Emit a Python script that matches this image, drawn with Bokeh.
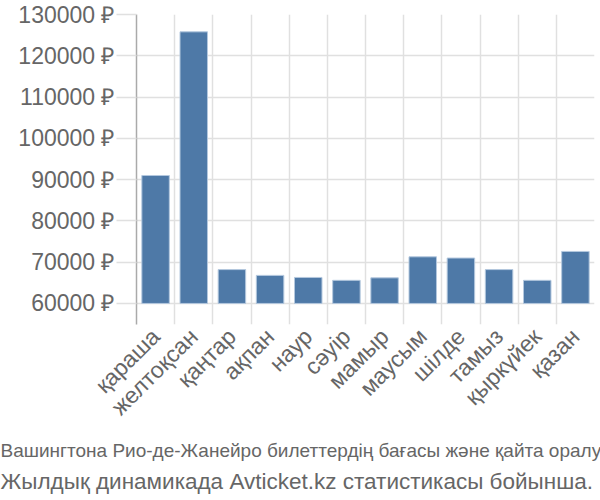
from math import pi
from bokeh.plotting import figure
from bokeh.models import Range1d, FixedTicker, Title
from bokeh.embed import file_html
from bokeh.resources import INLINE

months = ["қараша", "желтоқсан", "қаңтар", "ақпан", "наур", "сәуір",
          "мамыр", "маусым", "шілде", "тамыз", "қыркүйек", "қазан"]
prices = [91000, 125800, 68200, 66800, 66300, 65600, 66200, 71300, 71000, 68200, 65600, 72600]
y_ticks = [60000, 70000, 80000, 90000, 100000, 110000, 120000, 130000]
title_line1 = "Вашингтона Рио-де-Жанейро билеттердің бағасы және қайта оралу"
title_line2 = "Жылдық динамикада Avticket.kz статистикасы бойынша."

xs = list(range(len(months)))
GRAY = "#666666"
GRID = "#e0e0e0"

p = figure(width=600, height=500, output_backend="svg", toolbar_location=None,
           x_range=Range1d(-0.5, len(months) - 0.5), y_range=Range1d(54900, 130000),
           min_border_left=136, min_border_right=6, min_border_top=14, min_border_bottom=176)
p.outline_line_color = None

p.vbar(x=xs, top=prices, bottom=y_ticks[0], width=0.72,
       fill_color="#4e79a7", line_color="#b4c8de", line_width=1)

# x axis
xa = p.xaxis[0]
xa.ticker = FixedTicker(ticks=xs)
xa.major_label_overrides = {i: m for i, m in enumerate(months)}
xa.major_label_orientation = pi / 4
xa.axis_line_color = None
xa.major_tick_line_color = None
xa.minor_tick_line_color = None
xa.major_label_text_font = "Liberation Sans"
xa.major_label_text_font_size = "23px"
xa.major_label_text_color = GRAY
xa.major_label_standoff = 2

# y axis
ya = p.yaxis[0]
ya.ticker = FixedTicker(ticks=y_ticks)
ya.major_label_overrides = {v: f"{v} ₽" for v in y_ticks}
ya.axis_line_color = "#aaaaaa"
ya.axis_line_width = 1.5
ya.major_tick_line_color = GRID
ya.major_tick_line_width = 1.5
ya.major_tick_out = 20
ya.major_tick_in = 0
ya.minor_tick_line_color = None
ya.major_label_text_font = "Liberation Sans"
ya.major_label_text_font_size = "23px"
ya.major_label_text_color = GRAY
ya.major_label_standoff = 2

# grids
p.xgrid[0].ticker = FixedTicker(ticks=[i - 0.5 for i in range(len(months) + 1)])
p.xgrid[0].grid_line_color = GRID
p.xgrid[0].grid_line_width = 1.5
p.ygrid[0].ticker = FixedTicker(ticks=y_ticks)
p.ygrid[0].grid_line_color = GRID
p.ygrid[0].grid_line_width = 1.5

t1 = Title(text=title_line1, align="left", offset=-136, text_font="Liberation Sans",
           text_font_size="19px", text_font_style="normal", text_color=GRAY, standoff=10)
t2 = Title(text=title_line2, align="left", offset=-136, text_font="Liberation Sans",
           text_font_size="22.5px", text_font_style="normal", text_color=GRAY, standoff=3)
p.add_layout(t1, "below")
p.add_layout(t2, "below")

open("out.html", "w").write(file_html(p, INLINE))
